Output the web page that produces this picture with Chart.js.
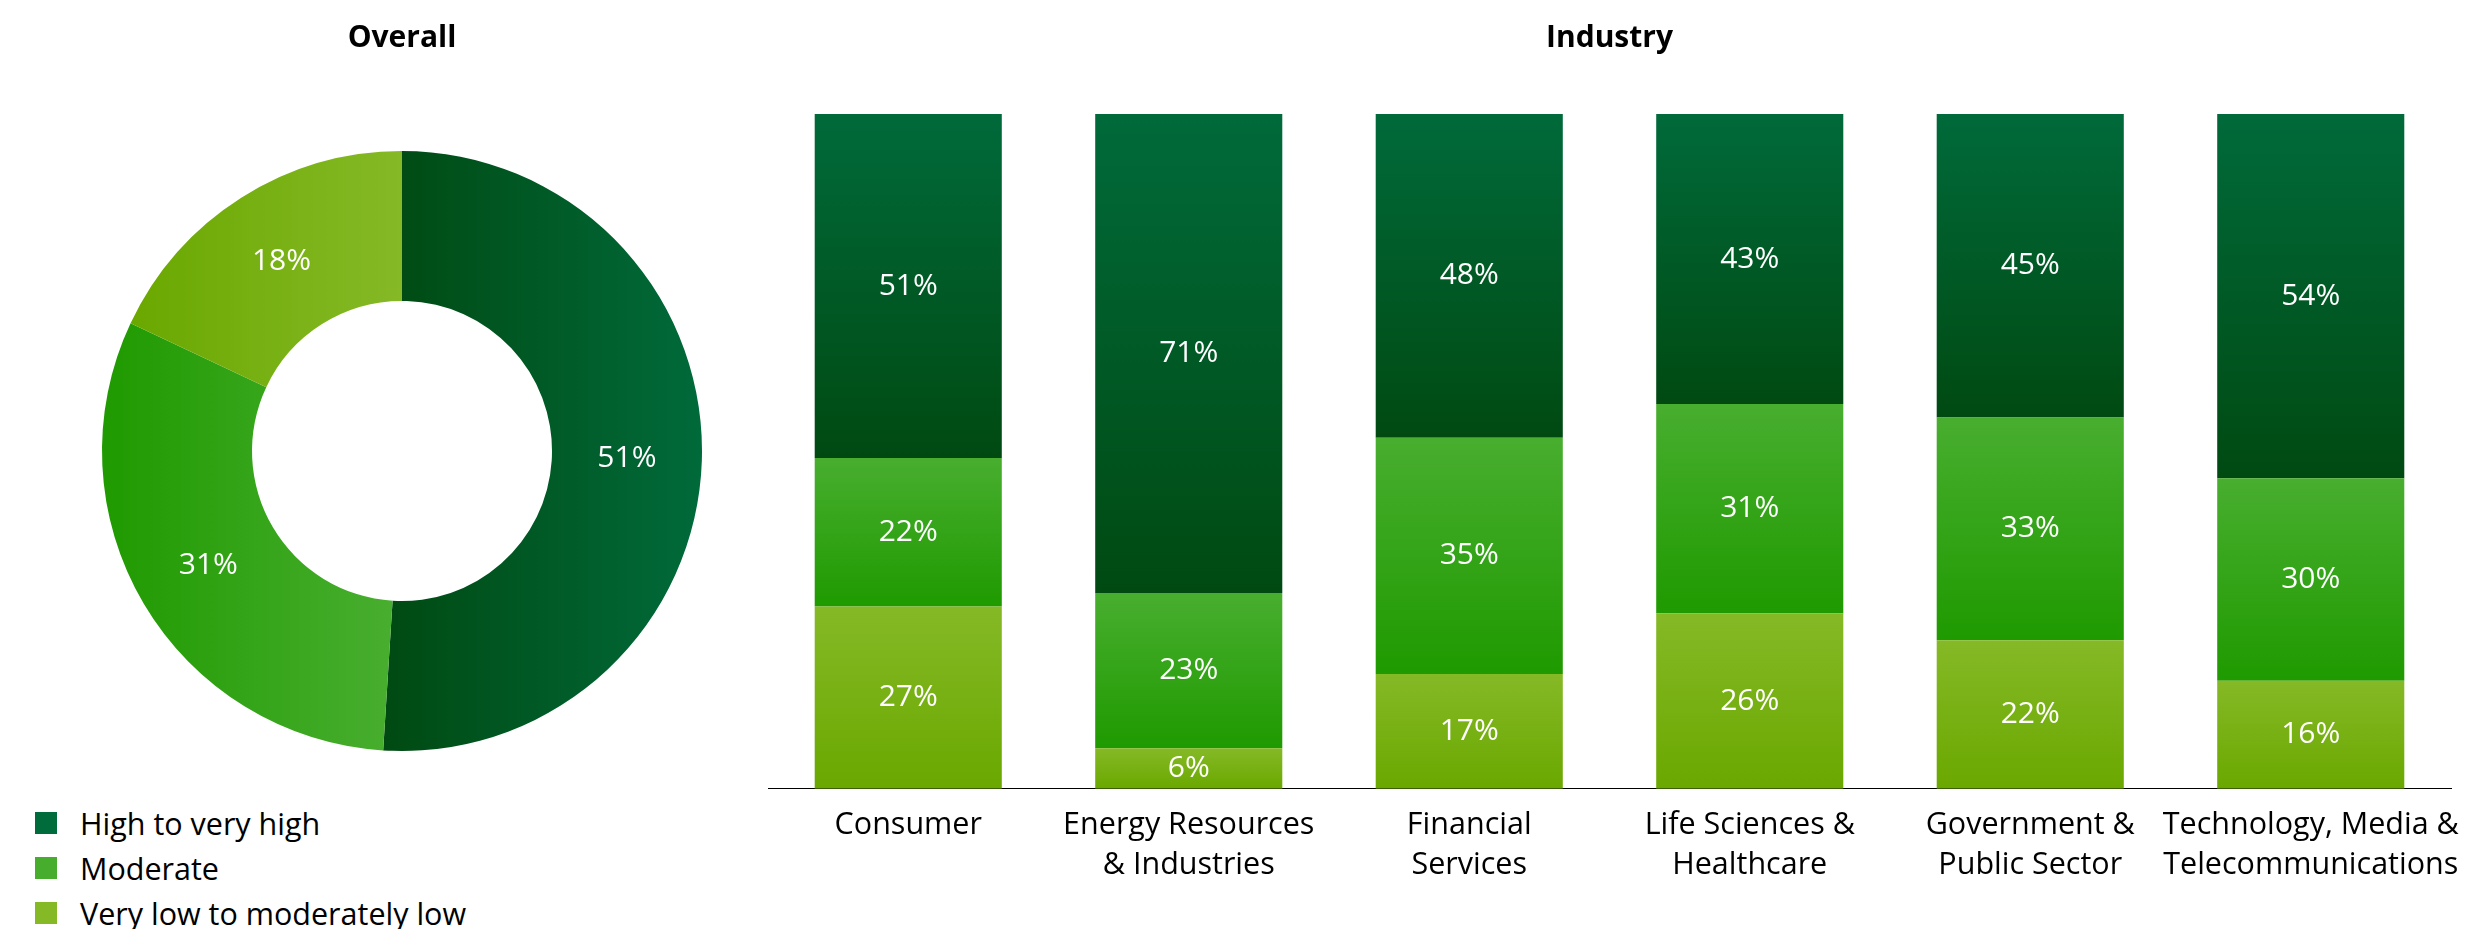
<!DOCTYPE html>
<html>
<head>
<meta charset="utf-8">
<script src="https://cdn.jsdelivr.net/npm/chart.js@4.4.1/dist/chart.umd.min.js"></script>
<style>
  body { margin: 0; background: #fff; font-family: "Open Sans", sans-serif; }
  #overallWrap { position: absolute; left: 0; top: 0; width: 804px; height: 760px; }
  #industryWrap { position: absolute; left: 758px; top: 0; width: 1703px; height: 929px; }
  #legend { position: absolute; left: 35px; top: 800px; }
  .legend-item { display: flex; align-items: center; height: 45px; font-size: 30.5px; color: #000; }
  .legend-box { width: 22px; height: 22px; margin-right: 23px; }
</style>
</head>
<body>
<div id="overallWrap"><canvas id="overallChart"></canvas></div>
<div id="industryWrap"><canvas id="industryChart"></canvas></div>
<div id="legend"></div>

<script>
const seriesNames = ["High to very high", "Moderate", "Very low to moderately low"];
const overallValues = [51, 31, 18];

const industries = [
  "Consumer",
  ["Energy Resources", "& Industries"],
  ["Financial", "Services"],
  ["Life Sciences &", "Healthcare"],
  ["Government &", "Public Sector"],
  ["Technology, Media &", "Telecommunications"]
];
const highValues = [51, 71, 48, 43, 45, 54];
const moderateValues = [22, 23, 35, 31, 33, 30];
const lowValues = [27, 6, 17, 26, 22, 16];

// [dark end, light end] of each gradient
const palette = {
  high: ["#004a12", "#006a3a"],
  moderate: ["#1f9a00", "#48ae2f"],
  low: ["#6aa800", "#85b926"]
};
const legendColors = ["#006b3b", "#46ae2c", "#85b926"];

const FONT = "'Open Sans', sans-serif";

// vertical gradient across one stacked segment
function barGradient(context, stops) {
  const chart = context.chart;
  if (!chart.chartArea) return stops[1];
  const y = chart.scales.y;
  let base = 0;
  for (let i = 0; i < context.datasetIndex; i++) {
    base += chart.data.datasets[i].data[context.dataIndex];
  }
  const top = base + context.raw;
  const g = chart.ctx.createLinearGradient(0, y.getPixelForValue(top), 0, y.getPixelForValue(base));
  g.addColorStop(0, stops[1]);
  g.addColorStop(1, stops[0]);
  return g;
}

// horizontal gradient across one donut slice
function arcGradient(context, stopsList) {
  const chart = context.chart;
  const area = chart.chartArea;
  const stops = stopsList[context.dataIndex];
  if (!area) return stops[1];
  const cx = (area.left + area.right) / 2;
  const r = Math.min(area.right - area.left, area.bottom - area.top) / 2;
  const vals = chart.data.datasets[0].data;
  const total = vals.reduce((a, b) => a + b, 0);
  let before = 0;
  for (let i = 0; i < context.dataIndex; i++) before += vals[i];
  const start = before / total * Math.PI * 2;
  const end = (before + vals[context.dataIndex]) / total * Math.PI * 2;
  let minX = Infinity, maxX = -Infinity;
  for (let k = 0; k <= 60; k++) {
    const a = start + (end - start) * k / 60;
    [r, r * 0.5].forEach(R => {
      const x = cx + R * Math.sin(a);
      minX = Math.min(minX, x);
      maxX = Math.max(maxX, x);
    });
  }
  const g = chart.ctx.createLinearGradient(minX, 0, maxX, 0);
  g.addColorStop(0, stops[0]);
  g.addColorStop(1, stops[1]);
  return g;
}

const valueLabels = {
  id: "valueLabels",
  afterDatasetsDraw(chart) {
    const ctx = chart.ctx;
    ctx.save();
    ctx.fillStyle = "#fff";
    ctx.font = "30px " + FONT;
    ctx.textAlign = "center";
    ctx.textBaseline = "middle";
    chart.data.datasets.forEach((ds, di) => {
      chart.getDatasetMeta(di).data.forEach((el, i) => {
        let x, y;
        if (chart.config.type === "doughnut") {
          const p = el.tooltipPosition();
          x = p.x; y = p.y;
        } else {
          x = el.x; y = (el.y + el.base) / 2;
        }
        ctx.fillText(ds.data[i] + "%", x, y);
      });
    });
    ctx.restore();
  }
};

new Chart(document.getElementById("overallChart"), {
  type: "doughnut",
  data: {
    labels: seriesNames,
    datasets: [{
      data: overallValues,
      backgroundColor: c => arcGradient(c, [palette.high, palette.moderate, palette.low]),
      borderWidth: 0
    }]
  },
  options: {
    responsive: true,
    maintainAspectRatio: false,
    animation: false,
    cutout: "50%",
    layout: { padding: { top: 0, bottom: 9, left: 0, right: 0 } },
    plugins: {
      legend: { display: false },
      tooltip: { enabled: false },
      title: {
        display: true,
        text: "Overall",
        color: "#000",
        font: { family: FONT, size: 30, weight: "bold" },
        padding: { top: 20.5, bottom: 94.5 }
      }
    }
  },
  plugins: [valueLabels]
});

new Chart(document.getElementById("industryChart"), {
  type: "bar",
  data: {
    labels: industries,
    datasets: [
      { label: seriesNames[2], data: lowValues, backgroundColor: c => barGradient(c, palette.low) },
      { label: seriesNames[1], data: moderateValues, backgroundColor: c => barGradient(c, palette.moderate) },
      { label: seriesNames[0], data: highValues, backgroundColor: c => barGradient(c, palette.high) }
    ]
  },
  options: {
    responsive: true,
    maintainAspectRatio: false,
    animation: false,
    datasets: { bar: { categoryPercentage: 1, barPercentage: 0.667, borderWidth: 0 } },
    layout: { padding: { top: 0, bottom: 27, left: 10, right: 10 } },
    plugins: {
      legend: { display: false },
      tooltip: { enabled: false },
      title: {
        display: true,
        text: "Industry",
        color: "#000",
        font: { family: FONT, size: 30, weight: "bold" },
        padding: { top: 20.5, bottom: 57.5 }
      }
    },
    scales: {
      x: {
        stacked: true,
        grid: { display: false, drawTicks: false },
        border: { display: true, color: "#000", width: 1 },
        ticks: {
          color: "#000",
          padding: 17,
          maxRotation: 0,
          minRotation: 0,
          autoSkip: false,
          font: { family: FONT, size: 30.5, lineHeight: 1.3 }
        },
        // long edge labels may hang past the plot, as in the original
        afterFit: s => { s.paddingLeft = 0; s.paddingRight = 0; }
      },
      y: { stacked: true, display: false, min: 0, max: 100 }
    }
  },
  plugins: [valueLabels]
});

const legendEl = document.getElementById("legend");
seriesNames.forEach((name, i) => {
  const item = document.createElement("div");
  item.className = "legend-item";
  const box = document.createElement("span");
  box.className = "legend-box";
  box.style.background = legendColors[i];
  item.appendChild(box);
  item.appendChild(document.createTextNode(name));
  legendEl.appendChild(item);
});
</script>
</body>
</html>
